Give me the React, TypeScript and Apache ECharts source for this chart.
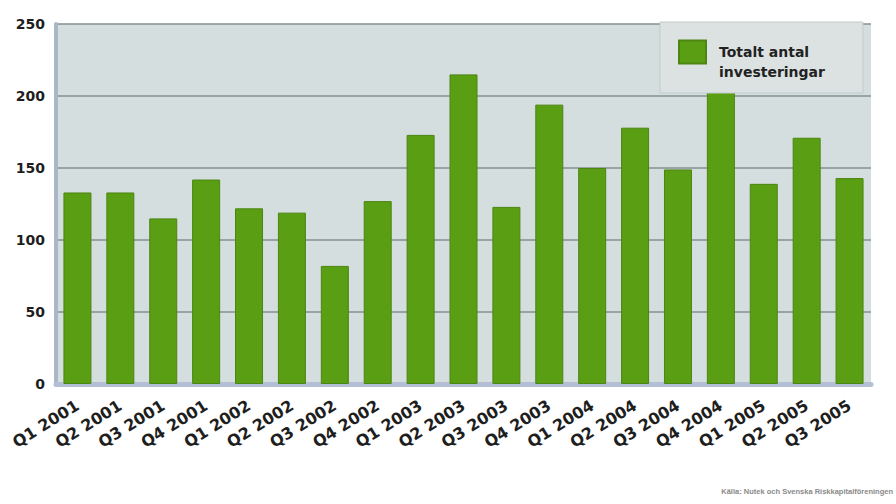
import React, { useEffect, useRef } from "react";
import * as echarts from "echarts";

const categories = [
  "Q1 2001", "Q2 2001", "Q3 2001", "Q4 2001",
  "Q1 2002", "Q2 2002", "Q3 2002", "Q4 2002",
  "Q1 2003", "Q2 2003", "Q3 2003", "Q4 2003",
  "Q1 2004", "Q2 2004", "Q3 2004", "Q4 2004",
  "Q1 2005", "Q2 2005", "Q3 2005",
];
const investeringar = [
  133, 133, 115, 142,
  122, 119, 82, 127,
  173, 215, 123, 194,
  150, 178, 149, 203,
  139, 171, 143,
];
const seriesName = "Totalt antal\ninvesteringar";
const sourceText = "Källa: Nutek och Svenska Riskkapitalföreningen";

export default function App() {
  const ref = useRef<HTMLDivElement>(null);
  useEffect(() => {
    document.body.style.margin = "0";
    if (!ref.current) return;
    const chart = echarts.init(ref.current, undefined, { renderer: "svg" });
    chart.setOption({
      animation: false,
      backgroundColor: "#ffffff",
      textStyle: { fontFamily: "DejaVu Sans" },
      grid: {
        left: 56,
        right: 25,
        top: 24,
        bottom: 120,
        show: true,
        backgroundColor: "#d4dede",
        borderWidth: 0,
      },
      legend: {
        data: [seriesName],
        formatter: (name: string) => "\u00a0\n" + name,
        left: 660,
        top: 22,
        orient: "vertical",
        padding: [0, 38, 11, 18],
        backgroundColor: "#dce2e2",
        borderColor: "#c3cbcb",
        borderWidth: 1,
        itemWidth: 27,
        itemHeight: 23,
        icon: "rect",
        textStyle: {
          fontFamily: "DejaVu Sans",
          fontWeight: "bold",
          fontSize: 14,
          color: "#222222",
          lineHeight: 20,
          padding: [0, 0, 0, 8],
        },
      },
      xAxis: {
        type: "category",
        data: categories,
        axisLine: { show: true, lineStyle: { color: "#b4bfd6", width: 5 } },
        axisTick: { show: false },
        axisLabel: {
          rotate: 32,
          interval: 0,
          margin: 20,
          fontFamily: "DejaVu Sans",
          fontWeight: "bold",
          fontSize: 16,
          color: "#1e1e1e",
        },
      },
      yAxis: {
        type: "value",
        min: 0,
        max: 250,
        interval: 50,
        axisLine: { show: true, lineStyle: { color: "#a9b8c6", width: 4 } },
        axisTick: { show: false },
        splitLine: { show: true, lineStyle: { color: "#84908f", width: 1.5 } },
        axisLabel: {
          margin: 11,
          fontFamily: "DejaVu Sans",
          fontWeight: "bold",
          fontSize: 14,
          color: "#1e1e1e",
        },
      },
      series: [
        {
          name: seriesName,
          type: "bar",
          data: investeringar,
          barWidth: 28,
          itemStyle: {
            color: "#5a9e14",
            borderColor: "#4c8511",
            borderWidth: 1,
          },
        },
      ],
      graphic: [
        {
          type: "text",
          right: 3,
          top: 487,
          style: {
            text: sourceText,
            fontFamily: "Liberation Sans",
            fontWeight: "bold",
            fontSize: 7.5,
            fill: "#8a8a8a",
          },
        },
      ],
    });
    return () => chart.dispose();
  }, []);
  return <div ref={ref} style={{ width: 896, height: 504 }} />;
}
